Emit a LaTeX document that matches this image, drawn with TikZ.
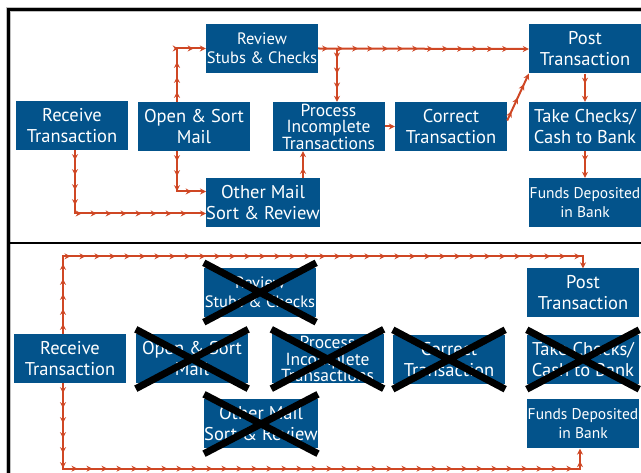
\documentclass[tikz,border=0pt]{standalone}
\usepackage{fontspec}
\setmainfont{PT Sans}
\usepackage{tikz}
\usetikzlibrary{arrows.meta,decorations.markings}

\definecolor{boxblue}{HTML}{03538B}
\definecolor{flowred}{HTML}{CF4724}

\begin{document}
\begin{tikzpicture}[x=1pt,y=-1pt]

\tikzset{box/.style = {fill=boxblue, text=white, minimum width=112pt, minimum height=49pt, inner sep=0pt, align=center, font=\fontsize{18.5}{21}\selectfont}}
\tikzset{boxsmall/.style = {box, font=\fontsize{16.5}{19}\selectfont}}
\tikzset{boxtight/.style = {box, font=\fontsize{17.5}{16.5}\selectfont}}
\tikzset{flow/.style = {draw=flowred, line width=2pt, -{Stealth[length=6pt,width=6pt]},
  postaction={decorate}, decoration={markings, mark=between positions 10pt and -8pt step 15pt with {\arrow{Stealth[length=6pt,width=6pt]}}}}}
\tikzset{cross/.style = {line width=7pt, black}}

\useasboundingbox (0,0) rectangle (641,473);

% frame
\draw[gray!50, line width=5pt] (641,10) -- (8,10) -- (8,473);
\draw[line width=3pt] (641,10) -- (8,10) -- (8,473);
\draw[line width=2.5pt] (8,243) -- (641,243);

% top: current flow
\node[box] (recv) at (72,125.5) {Receive\\Transaction};
\node[box] (open) at (194,126.5) {Open \& Sort\\Mail};
\node[boxsmall] (review) at (262,48.5) {Review\\Stubs \& Checks};
\node[box] (other) at (263,202.5) {Other Mail\\Sort \& Review};
\node[boxtight] (proc) at (328.5,126.5) {Process\\Incomplete\\Transactions};
\node[box] (corr) at (451,126.5) {Correct\\Transaction};
\node[box] (post) at (585,49) {Post\\Transaction};
\node[box] (take) at (585,126.5) {Take Checks/\\Cash to Bank};
\node[boxsmall, font=\fontsize{15.5}{19}\selectfont] (funds) at (585,202.5) {Funds Deposited\\in Bank};
%edges
\draw[flow] ([xshift=-17pt]open.north) |- (review.west);
\draw[flow] ([xshift=-17pt]open.south) |- ([yshift=11pt]other.west);
\draw[flow] ([xshift=3pt]recv.south) |- ([yshift=-11pt]other.west);
\draw[flow] ([xshift=40pt]other.north) -- ([xshift=40pt]other.north |- proc.south);
\draw[flow] (review.east) -- (post.west);
\draw[flow] ([xshift=8.5pt]proc.north |- review.east) -- ([xshift=8.5pt]proc.north);
\draw[flow] (proc.east) -- (corr.west);
\draw[flow] ([yshift=6pt]corr.east) -- (post.south west);
\draw[flow] (post.south) -- (take.north);
\draw[flow] (take.south) -- (funds.north);

% bottom: new flow
\node[box] (recvB) at (70,358.5) {Receive\\Transaction};
\node[boxsmall] (reviewB) at (260,292.5) {Review\\Stubs \& Checks};
\node[box] (openB) at (192,359) {Open \& Sort\\Mail};
\node[boxtight] (procB) at (327.5,359) {Process\\Incomplete\\Transactions};
\node[box] (otherB) at (261,424) {Other Mail\\Sort \& Review};
\node[box] (corrB) at (449,359.5) {Correct\\Transaction};
\node[box] (postB) at (583,293) {Post\\Transaction};
\node[box] (takeB) at (583,359.5) {Take Checks/\\Cash to Bank};
\node[boxsmall, font=\fontsize{15.5}{19}\selectfont] (fundsB) at (583,424) {Funds Deposited\\in Bank};
%edges
\draw[flow] ([xshift=-7pt]recvB.north) |- ([yshift=12pt]postB.north) -- (postB.north);
\draw[flow] ([xshift=-7pt]recvB.south) |- ([xshift=-3pt,yshift=-20pt]fundsB.south) -- ([xshift=-3pt]fundsB.south);
% crossed out steps
\draw[cross] ([yshift=5pt]reviewB.north west) -- ([yshift=-5pt]reviewB.south east) ([yshift=-5pt]reviewB.south west) -- ([yshift=5pt]reviewB.north east);
\draw[cross] ([yshift=5pt]openB.north west) -- ([yshift=-5pt]openB.south east) ([yshift=-5pt]openB.south west) -- ([yshift=5pt]openB.north east);
\draw[cross] ([yshift=5pt]procB.north west) -- ([yshift=-5pt]procB.south east) ([yshift=-5pt]procB.south west) -- ([yshift=5pt]procB.north east);
\draw[cross] ([yshift=5pt]otherB.north west) -- ([yshift=-5pt]otherB.south east) ([yshift=-5pt]otherB.south west) -- ([yshift=5pt]otherB.north east);
\draw[cross] ([yshift=5pt]corrB.north west) -- ([yshift=-5pt]corrB.south east) ([yshift=-5pt]corrB.south west) -- ([yshift=5pt]corrB.north east);
\draw[cross] ([yshift=5pt]takeB.north west) -- ([yshift=-5pt]takeB.south east) ([yshift=-5pt]takeB.south west) -- ([yshift=5pt]takeB.north east);

\end{tikzpicture}
\end{document}
